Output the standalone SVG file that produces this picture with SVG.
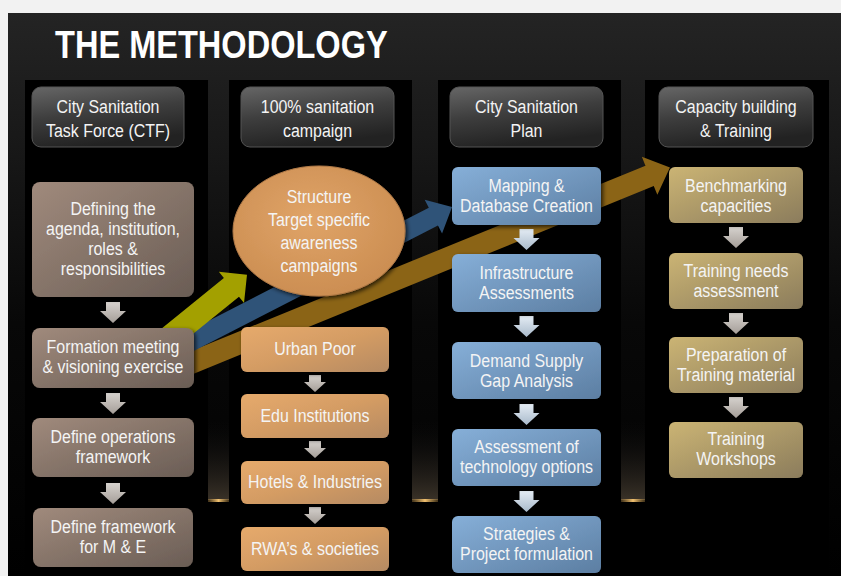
<svg xmlns="http://www.w3.org/2000/svg" width="841" height="576" viewBox="0 0 841 576">
<style>
.t{font-family:"Liberation Sans",Arial,sans-serif;font-size:19px;fill:#f4f4f4;text-anchor:middle}
.title{font-family:"Liberation Sans",Arial,sans-serif;font-size:39px;font-weight:bold;fill:#ffffff}
.hdr{fill:url(#gHdr);stroke:#555;stroke-width:1}
.brn{fill:url(#gBrn)}
.org{fill:url(#gOrg)}
.blu{fill:url(#gBlu)}
.kha{fill:url(#gKha)}
.panel{fill:#000}
</style>
<defs>
<linearGradient id="gBg" x1="0" y1="0" x2="0" y2="1">
<stop offset="0" stop-color="#242424"/><stop offset="0.55" stop-color="#080808"/><stop offset="1" stop-color="#000"/>
</linearGradient>
<linearGradient id="gHdr" x1="0" y1="0" x2="0.3" y2="1">
<stop offset="0" stop-color="#666"/><stop offset="0.5" stop-color="#3e3e3e"/><stop offset="1" stop-color="#222"/>
</linearGradient>
<linearGradient id="gBrn" x1="0" y1="0" x2="1" y2="1">
<stop offset="0" stop-color="#a08a7c"/><stop offset="1" stop-color="#6a5d55"/>
</linearGradient>
<linearGradient id="gOrg" x1="0" y1="0" x2="1" y2="1">
<stop offset="0" stop-color="#e6aa6c"/><stop offset="0.5" stop-color="#d49c64"/><stop offset="1" stop-color="#b58a62"/>
</linearGradient>
<radialGradient id="gEll" cx="0.45" cy="0.4" r="0.6">
<stop offset="0" stop-color="#e0a468"/><stop offset="1" stop-color="#cc8e52"/>
</radialGradient>
<linearGradient id="gBlu" x1="0" y1="0" x2="1" y2="1">
<stop offset="0" stop-color="#86afd8"/><stop offset="1" stop-color="#5c7ea2"/>
</linearGradient>
<linearGradient id="gKha" x1="0" y1="0" x2="1" y2="1">
<stop offset="0" stop-color="#cbb474"/><stop offset="1" stop-color="#8b7c5c"/>
</linearGradient>
<linearGradient id="gDnGray" x1="0" y1="0" x2="0" y2="1">
<stop offset="0" stop-color="#d6d2ce"/><stop offset="1" stop-color="#a59e98"/>
</linearGradient>
<linearGradient id="gDnBlue" x1="0" y1="0" x2="0" y2="1">
<stop offset="0" stop-color="#e4ecf4"/><stop offset="1" stop-color="#a9bacb"/>
</linearGradient>
<linearGradient id="gGap" x1="0" y1="0" x2="0" y2="1">
<stop offset="0" stop-color="#111" stop-opacity="0"/><stop offset="1" stop-color="#3a3228"/>
</linearGradient>
<linearGradient id="gGlow" x1="0" y1="0" x2="1" y2="0">
<stop offset="0" stop-color="#d0a050" stop-opacity="0.3"/><stop offset="0.5" stop-color="#f0c070"/><stop offset="1" stop-color="#d0a050" stop-opacity="0.3"/>
</linearGradient>
<filter id="sh" x="-10%" y="-10%" width="130%" height="130%">
<feDropShadow dx="2" dy="2" stdDeviation="2" flood-color="#000" flood-opacity="0.7"/>
</filter>
<path id="dn" d="M-7,0 H7 V9 H13 L0,21 L-13,9 H-7 Z"/>
<path id="dnS" d="M-6,0 H6 V7 H11 L0,17 L-11,7 H-6 Z"/>
</defs>

<!-- background -->
<rect x="0" y="0" width="841" height="576" fill="#f2f2f2"/>
<rect x="8" y="13" width="833" height="563" fill="url(#gBg)"/>
<rect x="208" y="420" width="21" height="80" fill="url(#gGap)"/>
<rect x="412" y="420" width="26" height="80" fill="url(#gGap)"/>
<rect x="621" y="420" width="24" height="80" fill="url(#gGap)"/>
<rect x="208" y="499" width="21" height="3" fill="url(#gGlow)"/>
<rect x="412" y="499" width="26" height="3" fill="url(#gGlow)"/>
<rect x="621" y="499" width="24" height="3" fill="url(#gGlow)"/>
<rect x="208" y="502" width="437" height="74" fill="#000"/>

<!-- column panels -->
<rect class="panel" x="25" y="80" width="183" height="496"/>
<rect class="panel" x="229" y="80" width="183" height="496"/>
<rect class="panel" x="438" y="80" width="183" height="496"/>
<rect class="panel" x="645" y="80" width="184" height="496"/>

<text class="title" transform="translate(55,58) scale(0.835,1)" x="0" y="0">THE METHODOLOGY</text>

<!-- connectors -->
<g id="connectors">
<path fill="#8b6416" transform="translate(175,369.5) rotate(-22.2)" d="M0,-11 H512.6 V-20.5 L534.6,0 L512.6,20.5 V11 H0 Z"/>
<path fill="#2f5378" transform="translate(175,349.4) rotate(-27.2)" d="M0,-10 H290.5 V-19 L311.5,0 L290.5,19 V10 H0 Z"/>
<path fill="#a3a000" transform="translate(161.5,344) rotate(-39)" d="M0,-12 H90 V-20 L110,0 L90,20 V12 H0 Z"/>
<g fill="url(#gDnGray)">
<use href="#dn" x="113" y="302"/>
<use href="#dn" x="113" y="393"/>
<use href="#dn" x="113" y="483"/>
<use href="#dnS" x="315" y="375"/>
<use href="#dnS" x="315" y="441"/>
<use href="#dnS" x="315" y="507"/>
<use href="#dn" x="736" y="227"/>
<use href="#dn" x="736" y="313"/>
<use href="#dn" x="736" y="397"/>
</g>
<g fill="url(#gDnBlue)">
<use href="#dn" x="526.5" y="229"/>
<use href="#dn" x="526.5" y="316"/>
<use href="#dn" x="526.5" y="404"/>
<use href="#dn" x="526.5" y="491"/>
</g>
</g>

<!-- headers -->
<g id="h1"><rect class="hdr" x="32" y="87" width="152" height="60" rx="9"/>
<g transform="translate(108,0) scale(0.84,1)"><text class="t" x="0" y="113">City Sanitation</text><text class="t" x="0" y="137">Task Force (CTF)</text></g></g>
<g id="h2"><rect class="hdr" x="241" y="87" width="153" height="60" rx="9"/>
<g transform="translate(317.5,0) scale(0.84,1)"><text class="t" x="0" y="113">100% sanitation</text><text class="t" x="0" y="137">campaign</text></g></g>
<g id="h3"><rect class="hdr" x="450" y="87" width="153" height="60" rx="9"/>
<g transform="translate(526.5,0) scale(0.84,1)"><text class="t" x="0" y="113">City Sanitation</text><text class="t" x="0" y="137">Plan</text></g></g>
<g id="h4"><rect class="hdr" x="659" y="87" width="154" height="60" rx="9"/>
<g transform="translate(736,0) scale(0.84,1)"><text class="t" x="0" y="113">Capacity building</text><text class="t" x="0" y="137">&amp; Training</text></g></g>

<!-- column 1 -->
<g id="c1a"><rect class="brn" x="32" y="182" width="162" height="115" rx="8" filter="url(#sh)"/>
<g transform="translate(113,0) scale(0.84,1)"><text class="t" x="0" y="215">Defining the</text><text class="t" x="0" y="235">agenda, institution,</text><text class="t" x="0" y="255">roles &amp;</text><text class="t" x="0" y="275">responsibilities</text></g></g>
<g id="c1b"><rect class="brn" x="32" y="328" width="162" height="60" rx="8" filter="url(#sh)"/>
<g transform="translate(113,0) scale(0.84,1)"><text class="t" x="0" y="353">Formation meeting</text><text class="t" x="0" y="373">&amp; visioning exercise</text></g></g>
<g id="c1c"><rect class="brn" x="32" y="418" width="162" height="59" rx="8" filter="url(#sh)"/>
<g transform="translate(113,0) scale(0.84,1)"><text class="t" x="0" y="443">Define operations</text><text class="t" x="0" y="463">framework</text></g></g>
<g id="c1d"><rect class="brn" x="33" y="508" width="160" height="59" rx="8" filter="url(#sh)"/>
<g transform="translate(113,0) scale(0.84,1)"><text class="t" x="0" y="533">Define framework</text><text class="t" x="0" y="553">for M &amp; E</text></g></g>

<!-- column 2 -->
<g id="c2e"><ellipse cx="319" cy="231" rx="86" ry="65" fill="url(#gEll)" stroke="#b07a48" stroke-width="1" filter="url(#sh)"/>
<g transform="translate(319,0) scale(0.84,1)"><text class="t" x="0" y="203">Structure</text><text class="t" x="0" y="226">Target specific</text><text class="t" x="0" y="249">awareness</text><text class="t" x="0" y="272">campaigns</text></g></g>
<g id="c2a"><rect class="org" x="241" y="327" width="148" height="45" rx="6" filter="url(#sh)"/>
<g transform="translate(315,0) scale(0.84,1)"><text class="t" x="0" y="355">Urban Poor</text></g></g>
<g id="c2b"><rect class="org" x="241" y="394" width="148" height="44" rx="6" filter="url(#sh)"/>
<g transform="translate(315,0) scale(0.84,1)"><text class="t" x="0" y="422">Edu Institutions</text></g></g>
<g id="c2c"><rect class="org" x="241" y="461" width="148" height="43" rx="6" filter="url(#sh)"/>
<g transform="translate(315,0) scale(0.84,1)"><text class="t" x="0" y="488">Hotels &amp; Industries</text></g></g>
<g id="c2d"><rect class="org" x="241" y="527" width="148" height="44" rx="6" filter="url(#sh)"/>
<g transform="translate(315,0) scale(0.84,1)"><text class="t" x="0" y="555">RWA’s &amp; societies</text></g></g>

<!-- column 3 -->
<g id="c3a"><rect class="blu" x="452" y="167" width="149" height="58" rx="6" filter="url(#sh)"/>
<g transform="translate(526.5,0) scale(0.84,1)"><text class="t" x="0" y="192">Mapping &amp;</text><text class="t" x="0" y="212">Database Creation</text></g></g>
<g id="c3b"><rect class="blu" x="452" y="254" width="149" height="58" rx="6" filter="url(#sh)"/>
<g transform="translate(526.5,0) scale(0.84,1)"><text class="t" x="0" y="279">Infrastructure</text><text class="t" x="0" y="299">Assessments</text></g></g>
<g id="c3c"><rect class="blu" x="452" y="342" width="149" height="57" rx="6" filter="url(#sh)"/>
<g transform="translate(526.5,0) scale(0.84,1)"><text class="t" x="0" y="367">Demand Supply</text><text class="t" x="0" y="387">Gap Analysis</text></g></g>
<g id="c3d"><rect class="blu" x="452" y="429" width="149" height="57" rx="6" filter="url(#sh)"/>
<g transform="translate(526.5,0) scale(0.84,1)"><text class="t" x="0" y="453">Assessment of</text><text class="t" x="0" y="473">technology options</text></g></g>
<g id="c3e"><rect class="blu" x="452" y="516" width="149" height="57" rx="6" filter="url(#sh)"/>
<g transform="translate(526.5,0) scale(0.84,1)"><text class="t" x="0" y="540">Strategies &amp;</text><text class="t" x="0" y="560">Project formulation</text></g></g>

<!-- column 4 -->
<g id="c4a"><rect class="kha" x="669" y="167" width="134" height="56" rx="6" filter="url(#sh)"/>
<g transform="translate(736,0) scale(0.84,1)"><text class="t" x="0" y="192">Benchmarking</text><text class="t" x="0" y="212">capacities</text></g></g>
<g id="c4b"><rect class="kha" x="669" y="253" width="134" height="56" rx="6" filter="url(#sh)"/>
<g transform="translate(736,0) scale(0.84,1)"><text class="t" x="0" y="277">Training needs</text><text class="t" x="0" y="297">assessment</text></g></g>
<g id="c4c"><rect class="kha" x="669" y="337" width="134" height="56" rx="6" filter="url(#sh)"/>
<g transform="translate(736,0) scale(0.84,1)"><text class="t" x="0" y="361">Preparation of</text><text class="t" x="0" y="381">Training material</text></g></g>
<g id="c4d"><rect class="kha" x="669" y="422" width="134" height="56" rx="6" filter="url(#sh)"/>
<g transform="translate(736,0) scale(0.84,1)"><text class="t" x="0" y="445">Training</text><text class="t" x="0" y="465">Workshops</text></g></g>
</svg>
